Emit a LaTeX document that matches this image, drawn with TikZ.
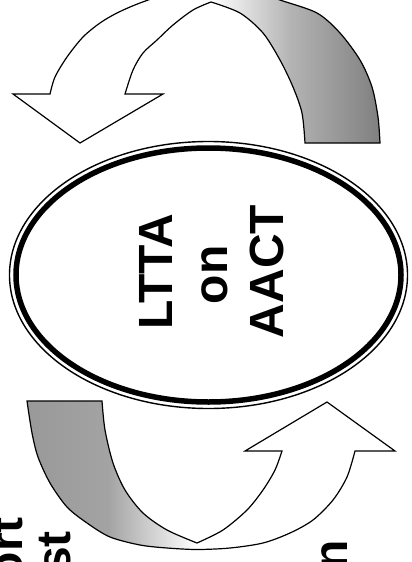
\documentclass[tikz,border=0pt]{standalone}
\usepackage{fontspec}
\setmainfont{Liberation Sans}
\usetikzlibrary{shapes.geometric}
\pgfdeclarehorizontalshading{topfade}{100bp}{color(0bp)=(white); color(25bp)=(white); color(52bp)=(white); color(63bp)=(black!30); color(75bp)=(black!50); color(100bp)=(black!50)}
\pgfdeclarehorizontalshading{bottomfade}{100bp}{color(0bp)=(black!40); color(25bp)=(black!40); color(36bp)=(black!36); color(48bp)=(white); color(100bp)=(white)}
\tikzset{
  arrowoutline/.style={draw=black, line width=1.2pt, line join=miter},
  hubtext/.style={rotate=90, anchor=base, inner sep=0pt, font=\fontsize{48}{55}\selectfont\bfseries},
  sidetext/.style={rotate=90, anchor=base east, inner sep=0pt, font=\fontsize{48}{55}\selectfont\bfseries},
}
\begin{document}
\begin{tikzpicture}[x=1pt,y=-1pt]
\useasboundingbox (0,0) rectangle (412,562);
\clip (0,0) rectangle (412,562);
\fill[white] (0,0) rectangle (412,562);

% upper curved arrow (tail right, head left pointing down)
\path[arrowoutline, shading=topfade]
  (80,143) -- (163,94) -- (125,94)
  -- plot[smooth] coordinates {(125,94) (133,70) (143,53) (157,40) (173,25) (193,10) (211,2)}
  -- plot[smooth] coordinates {(211,2) (240,13) (263,33) (280,60) (293,87) (302,113) (305,143)}
  -- (380,143)
  -- plot[smooth] coordinates {(380,143) (378,117) (372,87) (360,60) (340,33) (317,13) (280,0) (250,-10.5) (217,-13.5) (175,-8.5) (140,3) (117,13) (100,23) (83,37) (67,57) (55,77) (50,94)}
  -- (13,94) -- cycle;

% lower curved arrow (tail left, head right pointing up)
\path[arrowoutline, shading=bottomfade]
  (27,401) -- (102,401)
  -- plot[smooth] coordinates {(102,401) (105,430) (113,463) (125,490) (143,513) (167,530) (197,543)}
  -- plot[smooth] coordinates {(197,543) (223,530) (247,510) (263,490) (275,470) (282,451)}
  -- (245,451) -- (327,402) -- (395,451) -- (355,451)
  -- plot[smooth] coordinates {(355,451) (347,477) (333,500) (313,520) (290,533) (263,543) (230,548) (197,549.5) (167,548) (140,545) (110,537) (87,523) (67,507) (50,483) (38,457) (32,433) (27,401)}
  -- cycle;

% central ellipse with double border
\node[draw, ellipse, line width=5.5pt, minimum width=385pt, minimum height=254pt, inner sep=0pt] (hub) at (208.5,275) {};
\draw[line width=1.4pt] (hub.center) ellipse [x radius=199, y radius=133.5];

\node[hubtext] (ltta) at (172,272) {LTTA};
\node[hubtext] (on) at (227,275) {on};
\node[hubtext] (aact) at (283,271.5) {AACT};

% partially visible side texts
\node[sidetext] (t1) at (22,517) {ort};
\node[sidetext] (t2) at (70,531) {st};
\node[sidetext] (t3) at (347,540) {n};
\end{tikzpicture}
\end{document}
